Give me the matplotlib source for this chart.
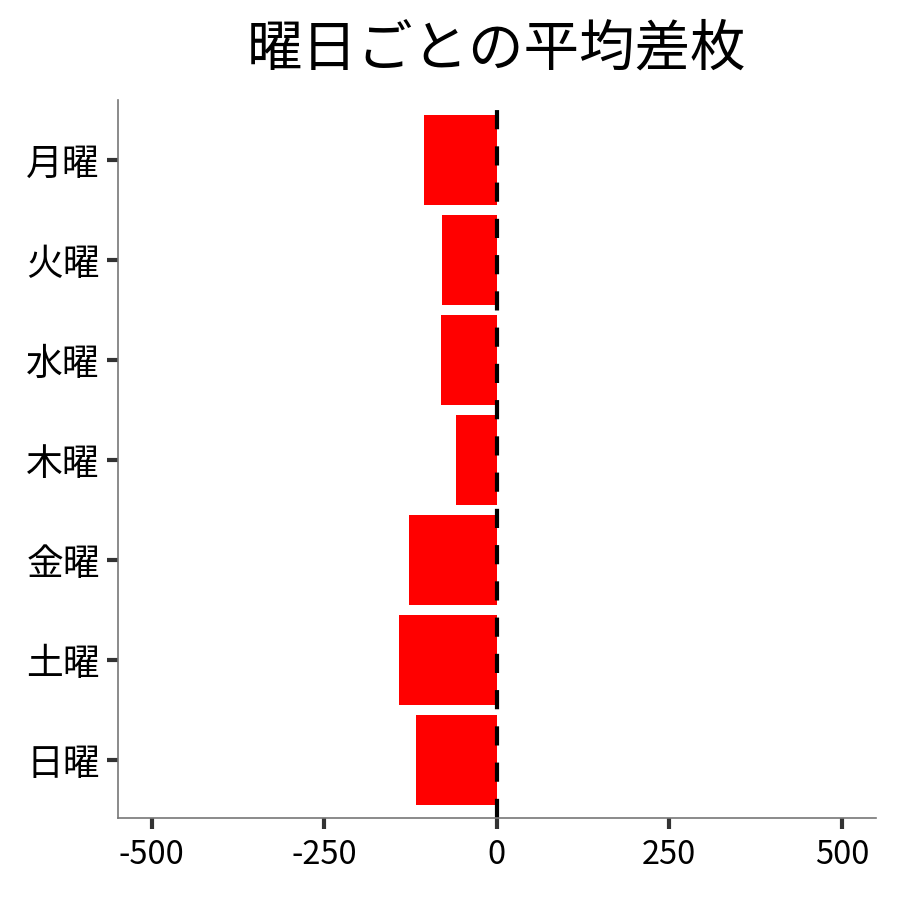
import matplotlib

matplotlib.use("Agg")
import matplotlib.pyplot as plt

plt.rcParams["font.family"] = ["Noto Sans CJK JP", "DejaVu Sans"]

days = ["月曜", "火曜", "水曜", "木曜", "金曜", "土曜", "日曜"]
avg_diff = [-105, -80, -81, -59, -127, -142, -117]
x_ticks = [-500, -250, 0, 250, 500]
x_tick_labels = ["-500", "-250", "0", "250", "500"]

fig = plt.figure(figsize=(9, 9), dpi=100)
ax = fig.add_axes([0.131, 0.091, 0.842, 0.798])

positions = list(range(len(days)))
ax.barh(positions, avg_diff, height=0.9, color="#ff0000")
ax.axvline(0, color="black", linewidth=3, linestyle=(0, (4.6, 4.1)))

ax.set_xlim(-549, 549)
ax.set_ylim(len(days) - 0.42, -0.6)
ax.set_yticks(positions)
ax.set_yticklabels(days, fontsize=26.5)
ax.set_xticks(x_ticks)
ax.set_xticklabels(x_tick_labels, fontsize=23.5)

for side in ["top", "right"]:
    ax.spines[side].set_visible(False)
for side in ["left", "bottom"]:
    ax.spines[side].set_color("#777777")
    ax.spines[side].set_linewidth(1.2)

ax.tick_params(axis="both", colors="#333333", width=3, length=8, labelcolor="black")
ax.tick_params(axis="y", pad=5)
ax.tick_params(axis="x", pad=7)

ax.set_title("曜日ごとの平均差枚", fontsize=40, pad=25)

fig.savefig("out.png", dpi=100)
plt.close(fig)
